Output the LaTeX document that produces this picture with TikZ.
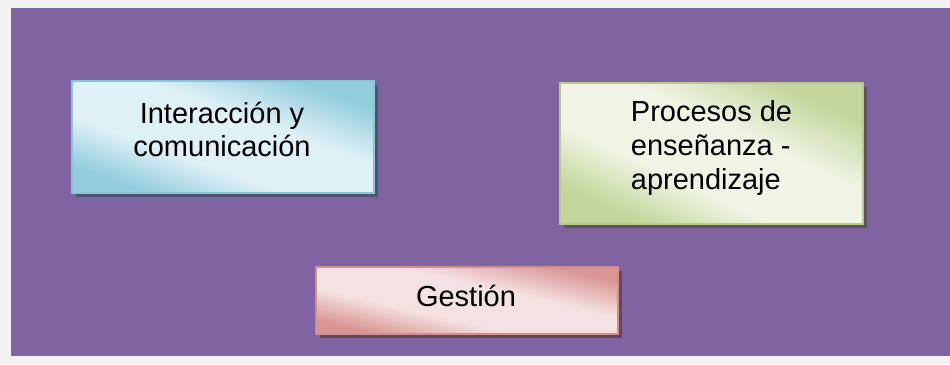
\documentclass[tikz,border=0pt]{standalone}
\usepackage{fontspec}
\setmainfont{Liberation Sans}
\usetikzlibrary{shadows}
\definecolor{bgray}{HTML}{F2F2F2}
\definecolor{purp}{HTML}{8064A2}
\definecolor{bluel}{HTML}{DFF0F6}
\definecolor{blued}{HTML}{93CDDD}
\definecolor{blueb}{HTML}{8AC5D6}
\definecolor{greenl}{HTML}{EFF4E4}
\definecolor{greend}{HTML}{C3D69B}
\definecolor{greenb}{HTML}{B6CD8A}
\definecolor{pinkl}{HTML}{F4E1E1}
\definecolor{pinkd}{HTML}{D99694}
\definecolor{pinkb}{HTML}{D48E8C}
\pgfdeclareverticalshading{blueshade}{100bp}{color(0bp)=(blued); color(26bp)=(blued); color(40bp)=(bluel); color(58bp)=(bluel); color(74bp)=(blued); color(100bp)=(blued)}
\pgfdeclareverticalshading{greenshade}{100bp}{color(0bp)=(greend); color(26bp)=(greend); color(40bp)=(greenl); color(58bp)=(greenl); color(74bp)=(greend); color(100bp)=(greend)}
\pgfdeclareverticalshading{pinkshade}{100bp}{color(0bp)=(pinkd); color(26bp)=(pinkd); color(40bp)=(pinkl); color(58bp)=(pinkl); color(74bp)=(pinkd); color(100bp)=(pinkd)}
\begin{document}
\begin{tikzpicture}[x=1pt,y=-1pt,
  glossbox/.style n args={4}{rectangle, inner sep=0pt, line width=1.5pt,
    draw=#3, shading=#1, shading angle=#4,
    general shadow={fill=#2!35!black!60!purp, shadow xshift=3.5pt, shadow yshift=-3.5pt}},
  txt/.style={inner sep=0pt, text=black, font=\fontsize{29}{33.5}\selectfont}]
  \fill[bgray] (0,0) rectangle (950,364);
  \fill[purp] (11,8) rectangle (950,356);
  \node[glossbox={blueshade}{blued}{blueb}{-20}, minimum width=302pt, minimum height=112pt] (b1) at (223,137) {};
  \node[glossbox={greenshade}{greend}{greenb}{-25}, minimum width=303pt, minimum height=141pt] (b2) at (711.5,153.5) {};
  \node[glossbox={pinkshade}{pinkd}{pinkb}{-13}, minimum width=302pt, minimum height=67pt] (b3) at (467,300.5) {};
  \node[txt, align=center] (t1) at (222,129.5) {Interacción y\\comunicación};
  \node[txt, align=left] (t2) at (711.5,148) {Procesos de\\enseñanza -\\aprendizaje};
  \node[txt, anchor=base] (t3) at (466,306) {Gestión};
\end{tikzpicture}
\end{document}
